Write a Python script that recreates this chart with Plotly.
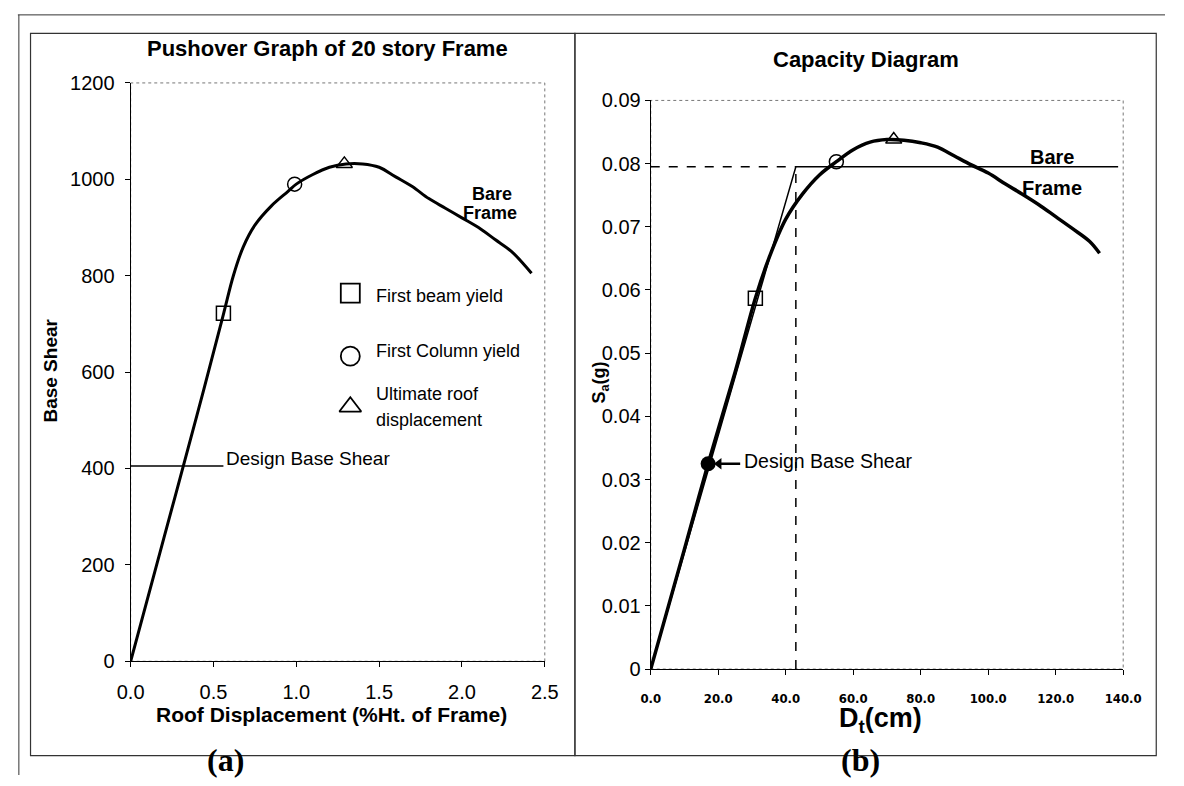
import plotly.graph_objects as go

# ---- Panel (a): pushover curve ----
roof_disp = [0.0, 0.20, 0.40, 0.56, 0.62, 0.68, 0.75, 0.85, 0.95, 1.00, 1.10, 1.20, 1.30, 1.40, 1.50, 1.60, 1.70, 1.80, 1.90, 2.00, 2.10, 2.20, 2.30, 2.42]
base_shear = [0, 255, 510, 720, 800, 860, 905, 945, 975, 990, 1010, 1025, 1032, 1032, 1025, 1005, 985, 960, 940, 920, 900, 875, 850, 805]
beam_yield_a = (0.56, 722)
col_yield_a = (0.99, 990)
ult_a = (1.29, 1032)
design_shear_a = 405
design_line_end_a = 0.56

# ---- Panel (b): capacity diagram ----
dt_cm = [0, 10, 17, 25, 31, 35, 40, 45, 50, 55, 60, 65, 70, 75, 80, 85, 90, 95, 100, 105, 110, 115, 120, 125, 130, 133]
sa_g = [0, 0.019, 0.0325, 0.047, 0.0587, 0.065, 0.0712, 0.0752, 0.0782, 0.0803, 0.0822, 0.0834, 0.0838, 0.0837, 0.0833, 0.0826, 0.0812, 0.0798, 0.0785, 0.0768, 0.0752, 0.0735, 0.0716, 0.0697, 0.0677, 0.0658]
bilinear_x = [0, 43, 138.5]
bilinear_y = [0, 0.0795, 0.0795]
yield_dt = 43
yield_sa = 0.0795
beam_yield_b = (31, 0.0587)
col_yield_b = (55, 0.0803)
ult_b = (72, 0.0838)
design_b = (17, 0.0325)

W, H = 1184, 786
def px(x):
    return x / W
def py(y):
    return 1 - y / H

fig = go.Figure()
blk = "black"

# panel a
fig.add_trace(go.Scatter(x=roof_disp, y=base_shear, mode="lines", line=dict(color=blk, width=3),
                         xaxis="x", yaxis="y", showlegend=False, line_shape="spline"))
fig.add_trace(go.Scatter(x=[0, design_line_end_a], y=[design_shear_a, design_shear_a], mode="lines",
                         line=dict(color=blk, width=1.5), xaxis="x", yaxis="y", showlegend=False))
for (pt, sym) in [(beam_yield_a, "square-open"), (col_yield_a, "circle-open"), (ult_a, "triangle-up-open")]:
    fig.add_trace(go.Scatter(x=[pt[0]], y=[pt[1]], mode="markers",
                             marker=dict(symbol=sym, size=14, color=blk, line=dict(width=1.5, color=blk)),
                             xaxis="x", yaxis="y", showlegend=False))

# panel b
fig.add_trace(go.Scatter(x=dt_cm, y=sa_g, mode="lines", line=dict(color=blk, width=3.5),
                         xaxis="x2", yaxis="y2", showlegend=False, line_shape="spline"))
fig.add_trace(go.Scatter(x=bilinear_x, y=bilinear_y, mode="lines", line=dict(color=blk, width=1.5),
                         xaxis="x2", yaxis="y2", showlegend=False))
fig.add_trace(go.Scatter(x=[0, yield_dt], y=[yield_sa, yield_sa], mode="lines",
                         line=dict(color=blk, width=1.5, dash="dash"), xaxis="x2", yaxis="y2", showlegend=False))
fig.add_trace(go.Scatter(x=[yield_dt, yield_dt], y=[0, yield_sa], mode="lines",
                         line=dict(color=blk, width=1.5, dash="dash"), xaxis="x2", yaxis="y2", showlegend=False))
for (pt, sym) in [(beam_yield_b, "square-open"), (col_yield_b, "circle-open"), (ult_b, "triangle-up-open")]:
    fig.add_trace(go.Scatter(x=[pt[0]], y=[pt[1]], mode="markers",
                             marker=dict(symbol=sym, size=14, color=blk, line=dict(width=1.5, color=blk)),
                             xaxis="x2", yaxis="y2", showlegend=False))
fig.add_trace(go.Scatter(x=[design_b[0]], y=[design_b[1]], mode="markers",
                         marker=dict(symbol="circle", size=15, color=blk),
                         xaxis="x2", yaxis="y2", showlegend=False))
# arrow (shaft + head) pointing at the design base shear point
fig.add_trace(go.Scatter(x=[19.5, 26.5], y=[design_b[1], design_b[1]], mode="lines",
                         line=dict(color=blk, width=2.5), xaxis="x2", yaxis="y2", showlegend=False))
fig.add_trace(go.Scatter(x=[20.2], y=[design_b[1]], mode="markers",
                         marker=dict(symbol="triangle-left", size=10, color=blk),
                         xaxis="x2", yaxis="y2", showlegend=False))

# legend symbols (panel a)
legend_x = 1.326
legend_rows = [("square-open", 764), ("circle-open", 633), ("triangle-up-open", 528)]
for (sym, yy) in legend_rows:
    fig.add_trace(go.Scatter(x=[legend_x], y=[yy], mode="markers",
                             marker=dict(symbol=sym, size=19, color=blk, line=dict(width=1.8, color=blk)),
                             xaxis="x", yaxis="y", showlegend=False))

tickfont = dict(family="Liberation Sans, Arial", size=20, color=blk)
axcommon = dict(showgrid=False, zeroline=False, showline=True, linecolor=blk, linewidth=1.2,
                mirror=False, ticks="outside", ticklen=5, tickcolor=blk, tickfont=tickfont)

fig.update_layout(
    width=W, height=H, margin=dict(l=0, r=0, t=0, b=0),
    paper_bgcolor="white", plot_bgcolor="white",
    xaxis=dict(domain=[px(120), px(546)], range=[0, 2.5], tickvals=[0, 0.5, 1, 1.5, 2, 2.5],
               ticktext=["0.0", "0.5", "1.0", "1.5", "2.0", "2.5"], anchor="y", ticklabelstandoff=8, **axcommon),
    yaxis=dict(domain=[py(669), py(74)], range=[0, 1200], dtick=200, anchor="x", ticklabelstandoff=6, **axcommon),
    xaxis2=dict(domain=[px(655), px(1141)], range=[0, 140], tickvals=[0, 20, 40, 60, 80, 100, 120, 140],
                ticktext=["0.0", "20.0", "40.0", "60.0", "80.0", "100.0", "120.0", "140.0"], anchor="y2",
                ticklabelstandoff=12,
                **{**axcommon, "tickfont": dict(family="DejaVu Sans Condensed, DejaVu Sans", size=13, color=blk, weight="bold")}),
    yaxis2=dict(domain=[py(677), py(92)], range=[0, 0.09], tickvals=[0, 0.01, 0.02, 0.03, 0.04, 0.05, 0.06, 0.07, 0.08, 0.09],
                ticktext=["0", "0.01", "0.02", "0.03", "0.04", "0.05", "0.06", "0.07", "0.08", "0.09"], anchor="x2", **axcommon),
)

shapes = [
    dict(type="line", xref="paper", yref="paper", x0=px(4), x1=px(1184), y0=py(4), y1=py(4),
         line=dict(color="#333", width=1)),
    dict(type="line", xref="paper", yref="paper", x0=px(5), x1=px(5), y0=py(4), y1=py(786),
         line=dict(color="#333", width=1)),
    dict(type="rect", xref="paper", yref="paper", x0=px(17), x1=px(577), y0=py(766), y1=py(23),
         line=dict(color="#333", width=1.2)),
    dict(type="rect", xref="paper", yref="paper", x0=px(577), x1=px(1175), y0=py(766), y1=py(23),
         line=dict(color="#333", width=1.2)),
    dict(type="rect", xref="x domain", yref="y domain", x0=0, x1=1, y0=0, y1=1,
         line=dict(color="#777", width=1, dash="dot"), layer="below"),
    dict(type="rect", xref="x2 domain", yref="y2 domain", x0=0, x1=1, y0=0, y1=1,
         line=dict(color="#777", width=1, dash="dot"), layer="below"),
]
fig.update_layout(shapes=shapes)

ann = []
def A(text, x, y, size, xanchor="center", bold_=False, fam=None, textangle=0, yanchor="middle", xref="paper", yref="paper"):
    t = f"<b>{text}</b>" if bold_ else text
    xx = px(x) if xref == "paper" else x
    yy = py(y) if yref == "paper" else y
    ann.append(dict(text=t, x=xx, y=yy, xref=xref, yref=yref, showarrow=False,
                    xanchor=xanchor, yanchor=yanchor, textangle=textangle,
                    font=dict(family=fam or "Liberation Sans, Arial", size=size, color=blk)))

A("Pushover Graph of 20 story Frame", 322, 39, 22, bold_=True)
A("Capacity Diagram", 876, 50, 22, bold_=True)
A("Roof Displacement (%Ht. of Frame)", 327, 724, 21, bold_=True)
A("Base Shear", 38, 370, 19, bold_=True, textangle=-90)
A("Bare", 2.18, 970, 18, bold_=True, xref="x", yref="y")
A("Frame", 2.17, 930, 18, bold_=True, xref="x", yref="y")
lx = 1.467
A("First beam yield", lx, 758, 18, xanchor="left", xref="x", yref="y")
A("First Column yield", lx, 643, 18, xanchor="left", xref="x", yref="y")
A("Ultimate roof", lx, 555, 18, xanchor="left", xref="x", yref="y")
A("displacement", lx, 500, 18, xanchor="left", xref="x", yref="y")
A("Design Base Shear", design_line_end_a + 0.005, design_shear_a - 10, 19, xanchor="left", yanchor="bottom", xref="x", yref="y")
A("Bare", 119, yield_sa + 0.0015, 20, bold_=True, xref="x2", yref="y2")
A("Frame", 119, yield_sa - 0.0034, 20, bold_=True, xref="x2", yref="y2")
A("Design Base Shear", 26.9, design_b[1] + 0.0004, 19.5, xanchor="left", xref="x2", yref="y2")
A("D<sub>t</sub>(cm)", 891, 729, 27, bold_=True)
A("S<sub>a</sub>(g)", 603, 382, 18, bold_=True, textangle=-90)
A("(a)", 218, 771, 32, bold_=True, fam="Liberation Serif, Times New Roman")
A("(b)", 871, 771, 32, bold_=True, fam="Liberation Serif, Times New Roman")
fig.update_layout(annotations=ann)

fig.write_html("out.html")
